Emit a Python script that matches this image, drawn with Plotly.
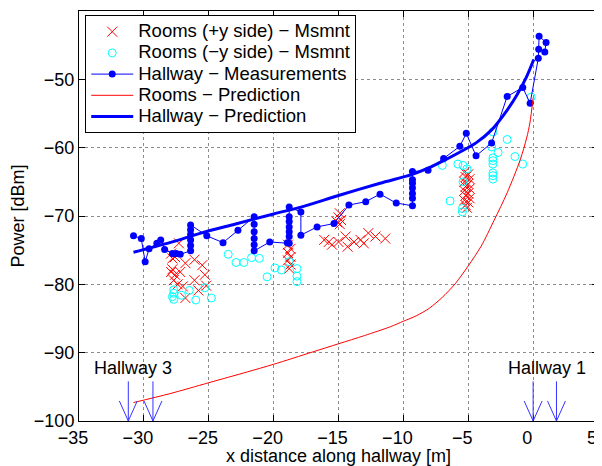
import plotly.graph_objects as go

# ---------------- data ----------------
rooms_pos_x = [-27.9, -27.8, -27.6, -27.3, -27.9, -27.6, -27.7, -27.4, -27.2, -26.8,
               -26.1, -25.5, -26.1, -25.3, -25.2, -25.8, -26.8, -27.0, -27.8,
               -18.9, -18.7, -18.9, -18.7, -18.9, -18.7, -18.8,
               -14.9, -15.0, -14.8, -14.9, -15.1,
               -16.1, -15.75, -15.5, -15.0, -14.45, -14.3, -13.8, -13.3, -13.05, -12.7, -12.15, -11.4,
               -5.3, -5.0, -5.2, -4.9, -5.3, -5.0, -5.2, -4.9, -5.3, -5.0, -5.2, -4.9, -5.3, -5.0, -5.2, -5.1]
rooms_pos_y = [-75.5, -76.2, -76.0, -74.0, -78.2, -78.6, -79.4, -80.0, -78.2, -76.9,
               -76.4, -77.2, -79.4, -78.6, -80.2, -80.9, -82.0, -80.3, -77.8,
               -74.2, -74.8, -75.4, -76.0, -76.5, -77.1, -77.7,
               -69.6, -70.2, -70.6, -71.2, -70.9,
               -73.5, -73.8, -74.2, -73.8, -73.0, -74.5, -73.8, -73.5, -74.0, -72.5, -73.0, -73.3,
               -63.6, -63.9, -64.3, -64.6, -65.0, -65.3, -65.7, -66.0, -66.3, -66.7, -67.0, -67.4, -67.7, -68.0, -68.4, -68.8]

rooms_neg_x = [-27.7, -27.7, -27.8, -27.7, -27.1, -26.5, -26.0, -25.3, -24.8,
               -23.5, -22.9, -22.3, -21.7, -21.1, -20.5, -19.9, -19.4, -18.8, -18.2, -18.2, -18.2,
               -7.0, -6.4, -5.8, -5.4, -5.1, -5.4, -5.45, -5.45,
               -3.1, -3.2, -3.1, -3.1, -3.1, -3.1, -3.1, -3.1, -2.7, -2.0, -1.4, -0.8, -0.15]
rooms_neg_y = [-80.8, -81.3, -81.8, -82.2, -81.6, -80.9, -82.3, -80.5, -82.0,
               -75.6, -76.8, -76.8, -76.1, -76.2, -78.9, -77.6, -77.9, -76.7, -77.7, -78.8, -79.6,
               -62.6, -67.8, -62.4, -62.6, -63.1, -65.0, -68.9, -69.4,
               -57.7, -59.9, -61.5, -61.9, -62.4, -63.7, -64.1, -64.6, -60.7, -58.8, -61.3, -62.4, -52.6]

hall_meas_x = [-30.8, -30.2, -29.9, -29.6, -29.0, -28.7, -28.4, -27.8, -27.5, -27.2,
               -26.4, -26.4, -26.4, -26.4, -26.4, -26.4,
               -25.15, -23.9, -22.75,
               -21.5, -21.5, -21.5, -21.5, -21.5, -21.5,
               -20.3, -18.95,
               -18.8, -18.8, -18.8, -18.8, -18.8, -18.8, -18.8,
               -17.9, -17.9, -16.65, -15.35, -14.2, -12.9, -11.8, -10.55,
               -9.3, -9.3, -9.3, -9.3, -9.3, -9.3, -9.3,
               -8.1, -6.9, -5.65, -5.15, -4.4, -3.2, -2.0, -0.8, -0.23,
               0.4, 0.43, 0.46, 1.0, 0.9]
hall_meas_y = [-72.9, -73.3, -76.7, -74.8, -74.0, -73.5, -74.9, -75.5, -75.5, -75.6,
               -75.1, -74.3, -73.5, -72.7, -72.0, -71.3,
               -72.9, -73.9, -72.1,
               -70.1, -71.2, -72.3, -73.3, -74.2, -75.1,
               -73.8, -73.9,
               -74.0, -73.0, -72.3, -71.6, -70.8, -70.1, -68.7,
               -69.4, -72.8, -71.6, -71.1, -68.4, -67.9, -66.8, -68.1,
               -68.5, -67.4, -66.7, -65.9, -65.2, -64.7, -63.5,
               -63.3, -61.6, -59.8, -57.9, -61.2, -59.3, -52.5, -51.2, -53.5,
               -46.9, -45.6, -43.7, -44.6, -46.0]

rooms_pred_x = [-30.8, -28, -25, -22, -20, -17, -15, -13, -11, -10, -9, -8, -7, -6, -5,
                -4, -3, -2, -1, -0.5, -0.25, 0.0]
rooms_pred_y = [-97.3, -96.0, -94.4, -92.8, -91.7, -89.9, -88.7, -87.5, -86.2, -85.4, -84.6,
                -83.5, -81.9, -79.9, -77.3, -74.4, -70.6, -66.6, -61.8, -58.6, -56.4, -52.7]

hall_pred_x = [-30.8, -28, -25.6, -23, -20, -17.9, -15, -11.8, -9.3, -8.1, -6.9, -5.7, -4.4,
               -3.2, -2.0, -1.25, -0.5, 0.05]
hall_pred_y = [-75.3, -73.9, -72.5, -71.2, -69.7, -68.7, -67.0, -65.2, -63.9, -63.0, -61.9,
               -60.7, -59.3, -57.4, -54.5, -52.3, -49.6, -47.1]

series_names = ["Rooms (+y side) \u2212 Msmnt", "Rooms (\u2212y side) \u2212 Msmnt",
                "Hallway \u2212 Measurements", "Rooms \u2212 Prediction",
                "Hallway \u2212 Prediction"]

hallway_arrow_x = [-31.2, -29.3, 0.0, 1.8]
hallway_labels = ["Hallway 3", "Hallway 1"]
hallway_label_x = [-30.85, 1.08]
hallway_label_y = [-92.3, -92.3]

x_ticks = [-35, -30, -25, -20, -15, -10, -5, 0, 5]
y_ticks = [-100, -90, -80, -70, -60, -50, -40]

FONT = "Liberation Sans, Arial, Helvetica, sans-serif"
FS = 18


def legend_label(t):
    # larger glyphs inside a compact legend row
    return '<span style="font-size:18.5px">' + t + "</span>"


# ---------------- figure ----------------
fig = go.Figure()

fig.add_trace(go.Scatter(
    x=rooms_pos_x, y=rooms_pos_y, mode="markers",
    name=legend_label(series_names[0]),
    marker=dict(symbol="x-thin-open", size=10, color="#ff0000",
                line=dict(color="#ff0000", width=1))))

fig.add_trace(go.Scatter(
    x=rooms_neg_x, y=rooms_neg_y, mode="markers",
    name=legend_label(series_names[1]),
    marker=dict(symbol="circle-open", size=8, color="#00ffff",
                line=dict(color="#00ffff", width=1))))

fig.add_trace(go.Scatter(
    x=hall_meas_x, y=hall_meas_y, mode="lines+markers",
    name=legend_label(series_names[2]),
    line=dict(color="#0000ff", width=1),
    marker=dict(symbol="circle", size=7, color="#0000ff")))

fig.add_trace(go.Scatter(
    x=rooms_pred_x, y=rooms_pred_y, mode="lines",
    name=legend_label(series_names[3]),
    line=dict(color="#ff0000", width=1, shape="spline", smoothing=0.8)))

fig.add_trace(go.Scatter(
    x=hall_pred_x, y=hall_pred_y, mode="lines",
    name=legend_label(series_names[4]),
    line=dict(color="#0000ff", width=3, shape="spline", smoothing=0.8)))

# hallway arrows (open V heads), built from the arrow positions
y_bottom = y_ticks[0]
shaft_len = 5.8
head_dx = 0.69
head_dy = 2.93
shapes = []
for ax in hallway_arrow_x:
    for (x0, y0, x1, y1) in [
        (ax, y_bottom + shaft_len, ax, y_bottom),
        (ax - head_dx, y_bottom + head_dy, ax, y_bottom),
        (ax + head_dx, y_bottom + head_dy, ax, y_bottom),
    ]:
        shapes.append(dict(type="line", xref="x", yref="y", x0=x0, y0=y0, x1=x1, y1=y1,
                           line=dict(color="#3333ff", width=1), layer="above"))

annotations = [
    dict(x=lx, y=ly, xref="x", yref="y", text=t, showarrow=False,
         font=dict(family=FONT, size=FS, color="black"))
    for t, lx, ly in zip(hallway_labels, hallway_label_x, hallway_label_y)
]

axis_common = dict(
    showline=True, linecolor="black", linewidth=1, mirror="allticks",
    ticks="inside", ticklen=6, tickcolor="black",
    showgrid=True, gridcolor="#8c8c8c", griddash="dot", gridwidth=1,
    zeroline=False, automargin=False,
    tickfont=dict(family=FONT, size=FS, color="black"),
)

# the page body adds an 8 px offset; the figure is sized to fit the 602x466 window
fig.update_layout(
    width=594, height=458,
    margin=dict(l=71, r=4, t=3, b=45),
    paper_bgcolor="white", plot_bgcolor="white",
    font=dict(family=FONT, size=FS, color="black"),
    xaxis=dict(range=[-35, 5], tickvals=x_ticks, ticklabelshift=-6, ticklabelstandoff=0,
               title=dict(text="x distance along hallway [m]", font=dict(family=FONT, size=FS),
                          standoff=2),
               **axis_common),
    yaxis=dict(range=[-100, -40], tickvals=y_ticks, ticklabelstandoff=0,
               title=dict(text="Power [dBm]", font=dict(family=FONT, size=FS), standoff=6),
               **axis_common),
    legend=dict(x=0.012, y=0.99, xanchor="left", yanchor="top",
                bgcolor="white", bordercolor="black", borderwidth=1,
                font=dict(family=FONT, size=14, color="black"),
                itemwidth=42, tracegroupgap=0),
    shapes=shapes,
    annotations=annotations,
    showlegend=True,
)

fig.write_html("out.html")
